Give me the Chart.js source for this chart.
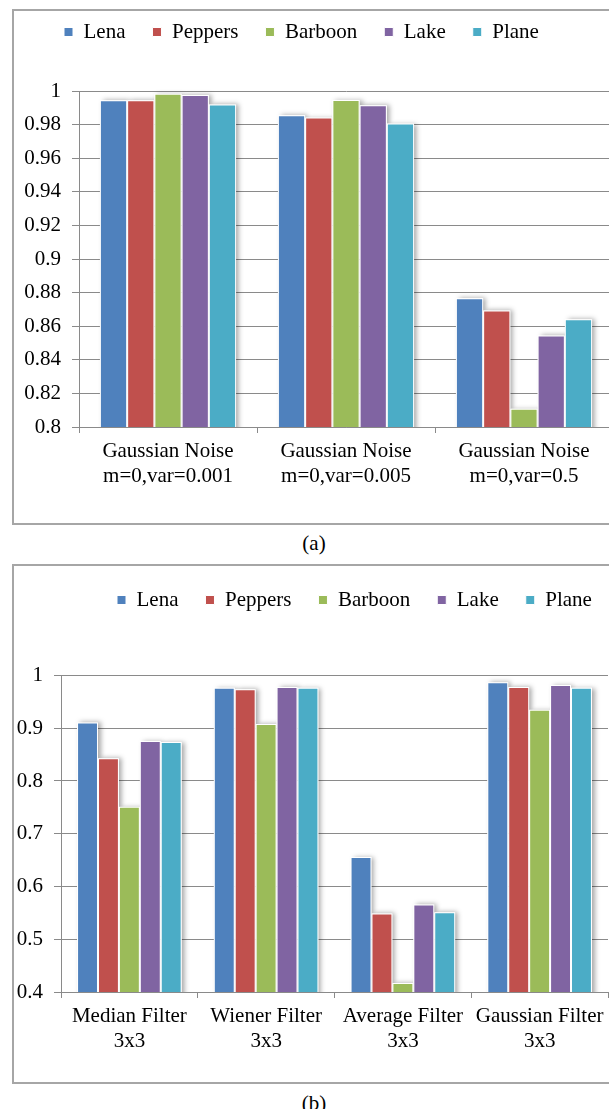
<!DOCTYPE html>
<html>
<head>
<meta charset="utf-8">
<script src="https://cdn.jsdelivr.net/npm/chart.js@4.4.1/dist/chart.umd.min.js"></script>
<style>
  body { margin: 0; width: 609px; height: 1109px; overflow: hidden; background: #fff; position: relative;
         font-family: "Liberation Serif", "Times New Roman", serif; }
  .frame { position: absolute; left: 12px; width: 640px; border: 2px solid #a6a6a6; box-sizing: border-box; }
  canvas { position: absolute; }
  .caption { position: absolute; left: 0; width: 628px; text-align: center; font-size: 21px; line-height: 24px; }
</style>
</head>
<body>
<div class="frame" style="top:9px;height:516px"></div>
<canvas id="chartA" width="600" height="512" style="left:14px;top:10px"></canvas>
<div class="caption" style="top:531px">(a)</div>

<div class="frame" style="top:564px;height:520px"></div>
<canvas id="chartB" width="600" height="516" style="left:14px;top:565px"></canvas>
<div class="caption" style="top:1091px">(b)</div>

<script>
// test images (series) and their colours
const images = ['Lena', 'Peppers', 'Barboon', 'Lake', 'Plane'];
const imageColors = ['#4f81bd', '#c0504d', '#9bbb59', '#8064a2', '#4bacc6'];

// (a) noise attacks
const noiseLabels = [
  ['Gaussian Noise', 'm=0,var=0.001'],
  ['Gaussian Noise', 'm=0,var=0.005'],
  ['Gaussian Noise', 'm=0,var=0.5']
];
const noiseLena    = [0.9945, 0.9856, 0.8767];
const noisePeppers = [0.9945, 0.9842, 0.8694];
const noiseBarboon = [0.9984, 0.9947, 0.8109];
const noiseLake    = [0.9976, 0.9915, 0.8545];
const noisePlane   = [0.9920, 0.9806, 0.8641];
const noiseMin = 0.8, noiseMax = 1, noiseStep = 0.02;

// (b) filter attacks
const filterLabels = [
  ['Median Filter', '3x3'],
  ['Wiener Filter', '3x3'],
  ['Average Filter', '3x3'],
  ['Gaussian Filter', '3x3']
];
const filterLena    = [0.911, 0.977, 0.656, 0.987];
const filterPeppers = [0.843, 0.974, 0.549, 0.978];
const filterBarboon = [0.751, 0.908, 0.417, 0.935];
const filterLake    = [0.876, 0.978, 0.566, 0.982];
const filterPlane   = [0.874, 0.977, 0.551, 0.977];
const filterMin = 0.4, filterMax = 1, filterStep = 0.1;

const fontFamily = "'Liberation Serif', 'Times New Roman', serif";
Chart.defaults.font.family = fontFamily;
Chart.defaults.font.size = 21;
Chart.defaults.color = '#000';

const gridColor = '#8a8a8a';

// soft shadow behind each bar, like the Excel effect
const barShadow = {
  id: 'barShadow',
  beforeDatasetsDraw(chart) {
    const ctx = chart.ctx, a = chart.chartArea;
    ctx.save();
    ctx.beginPath();
    ctx.rect(a.left, a.top - 10, a.right - a.left + 10, a.bottom - a.top + 10);
    ctx.clip();
    ctx.shadowColor = 'rgba(0,0,0,0.35)';
    ctx.shadowBlur = 5;
    ctx.shadowOffsetX = 3;
    ctx.fillStyle = '#fff';
    chart.data.datasets.forEach((ds, i) => {
      chart.getDatasetMeta(i).data.forEach(bar => {
        const p = bar.getProps(['x', 'y', 'base', 'width'], true);
        ctx.fillRect(p.x - p.width / 2, p.y, p.width, p.base - p.y);
      });
    });
    ctx.restore();
  }
};

// put the legend row where the original had it
const placeLegend = {
  id: 'placeLegend',
  afterLayout(chart, args, opts) {
    const lg = chart.legend;
    const pad = lg.options.labels.padding;
    lg.left = opts.x - pad;
    lg.right = chart.width + 600;
    lg.top = opts.y - pad;
    lg.bottom = opts.y + 40;
  }
};

function makeChart(id, labels, series, yMin, yMax, yStep, box) {
  return new Chart(document.getElementById(id), {
    type: 'bar',
    data: {
      labels: labels,
      datasets: images.map((name, i) => ({
        label: name,
        data: series[i],
        backgroundColor: imageColors[i],
        borderColor: '#fff',
        borderWidth: 1,
        categoryPercentage: 0.765,
        barPercentage: 1
      }))
    },
    plugins: [barShadow, placeLegend],
    options: {
      responsive: false,
      animation: false,
      layout: { padding: { top: box.padTop, right: box.padRight, left: 0, bottom: 0 } },
      plugins: {
        legend: {
          align: 'start',
          labels: { boxWidth: 9, boxHeight: 9, padding: 27 }
        },
        placeLegend: { x: box.legendX, y: box.legendY },
        tooltip: { enabled: false }
      },
      scales: {
        x: {
          grid: { drawOnChartArea: false, drawTicks: true, tickLength: 6, color: gridColor },
          border: { color: gridColor },
          ticks: { padding: 6, maxRotation: 0, autoSkip: false, font: { lineHeight: 25 / 21 } },
          afterFit: s => { s.height = box.xHeight; }
        },
        y: {
          min: yMin,
          max: yMax,
          grid: { color: gridColor, tickLength: 7 },
          border: { color: gridColor },
          ticks: { stepSize: yStep, padding: 11, callback: v => String(+v.toFixed(2)) },
          afterFit: s => { s.width = box.yWidth; }
        }
      }
    }
  });
}

function drawAll() {
  makeChart('chartA', noiseLabels,
    [noiseLena, noisePeppers, noiseBarboon, noiseLake, noisePlane],
    noiseMin, noiseMax, noiseStep,
    { padTop: 23, padRight: 1, xHeight: 95, yWidth: 65, legendX: 50, legendY: 11.5 });

  makeChart('chartB', filterLabels,
    [filterLena, filterPeppers, filterBarboon, filterLake, filterPlane],
    filterMin, filterMax, filterStep,
    { padTop: 52.5, padRight: 6, xHeight: 89, yWidth: 47, legendX: 103, legendY: 24.5 });
}

// make sure the serif face is ready before the canvas text is drawn
document.fonts.load("21px 'Liberation Serif'").then(drawAll, drawAll);
</script>
</body>
</html>
